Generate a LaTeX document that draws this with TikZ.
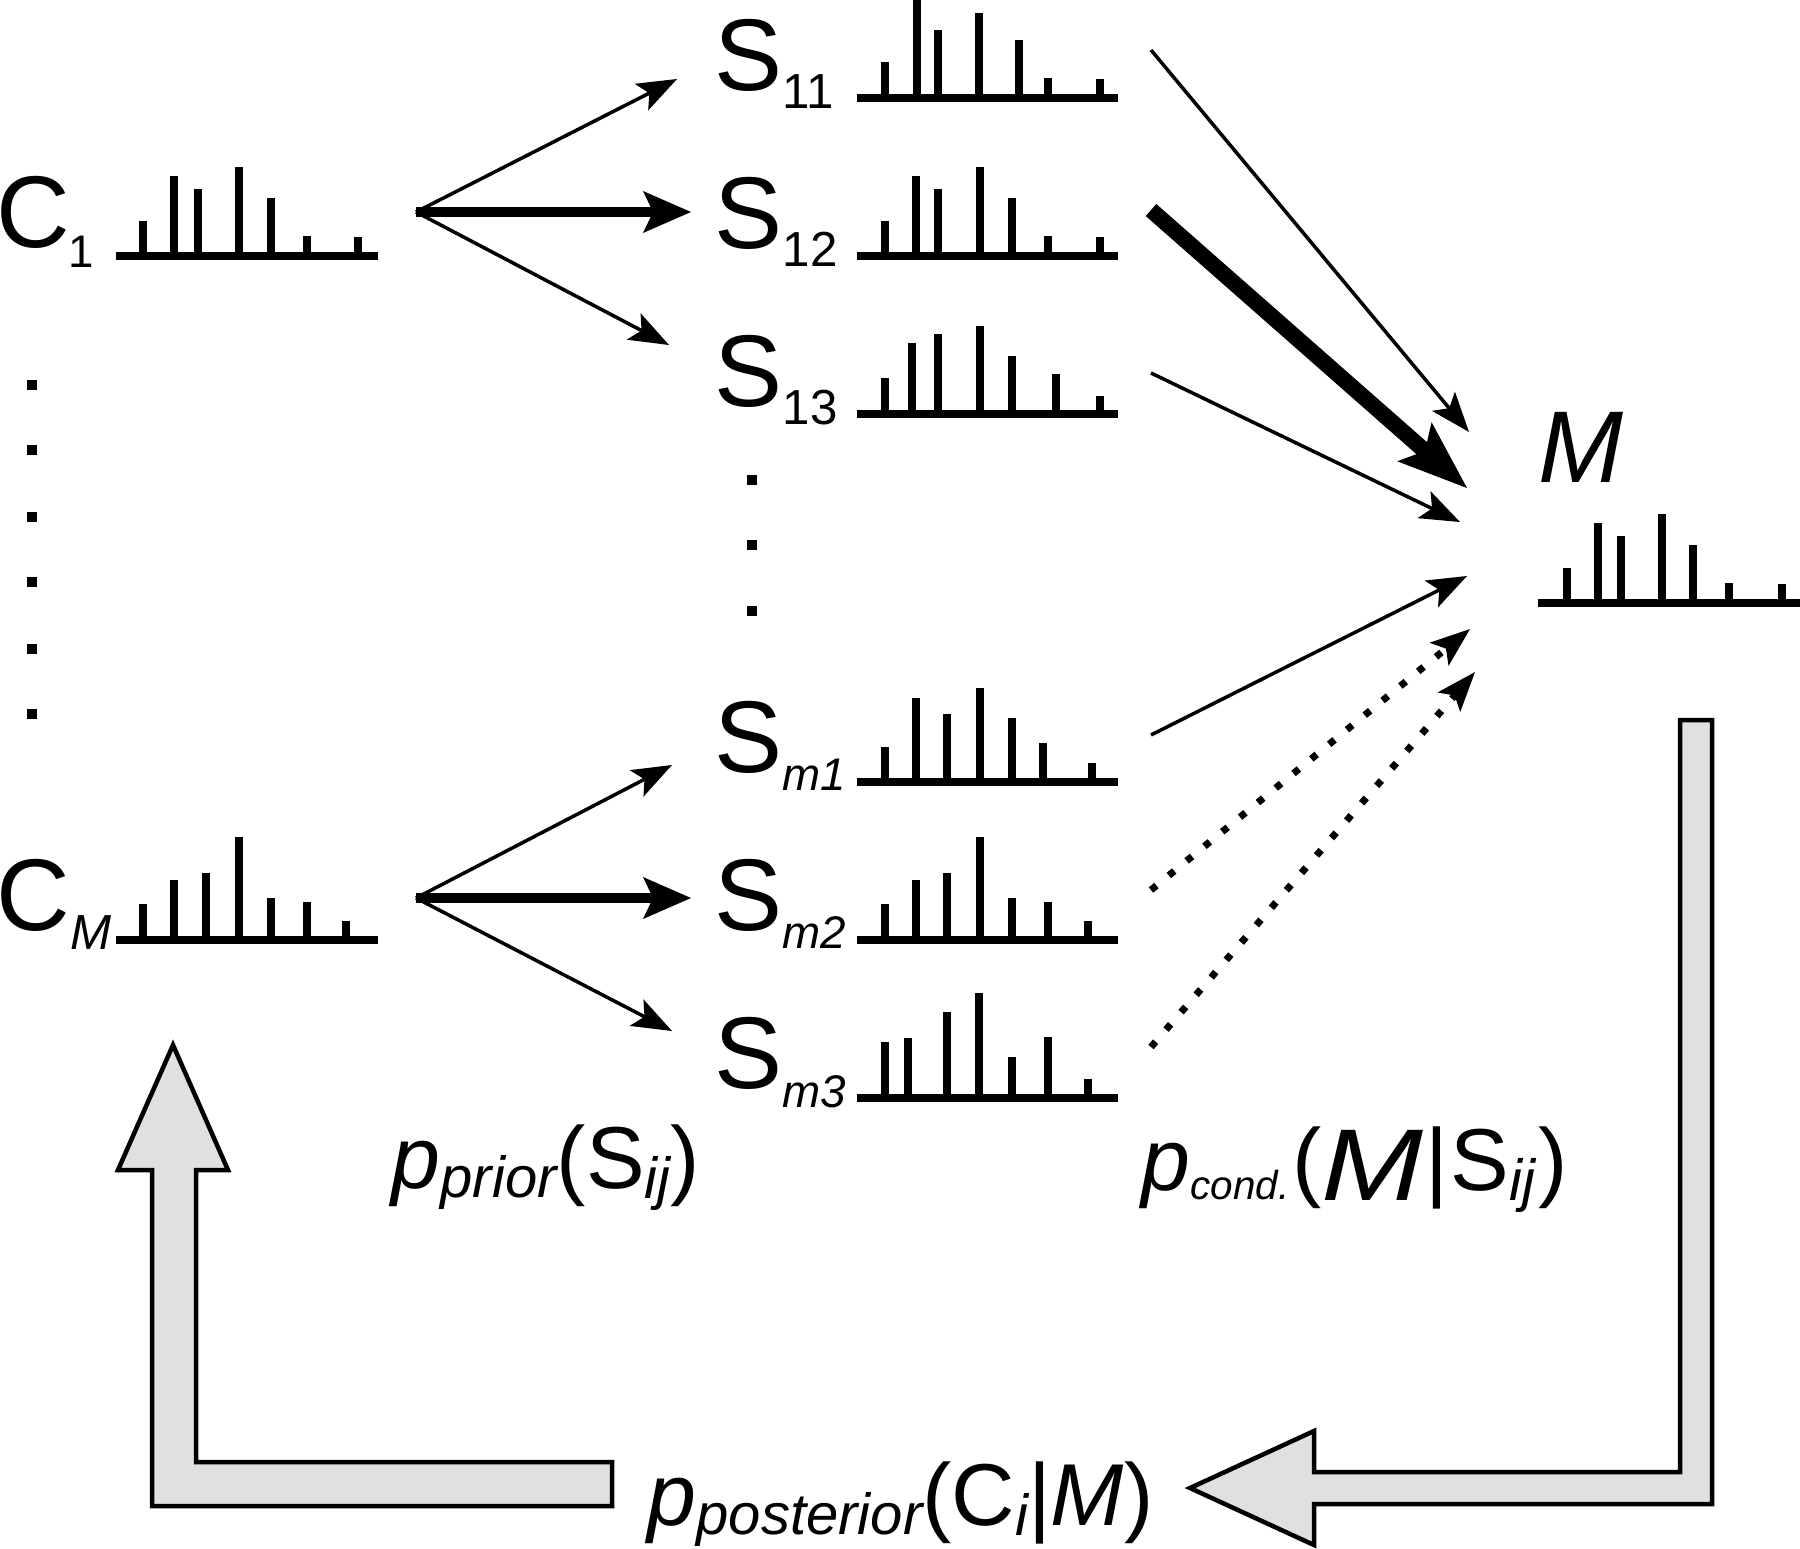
\documentclass[tikz,border=0pt]{standalone}
\usepackage{fontspec}
\setmainfont{Liberation Sans}
\usepackage{tikz}
\usetikzlibrary{arrows.meta,positioning}

\newcommand{\lowsub}[3]{\raisebox{-#1}{\fontsize{#2}{#2}\selectfont #3}}

\begin{document}
\begin{tikzpicture}[->,>={Stealth[length=0.4cm,width=0.3cm,inset=0.09cm,line width=0pt]},
                    x=0.01cm,y=-0.01cm,line width=1pt]
  \tikzstyle{spec}=[-,line width=0.08cm]
  \tikzstyle{bar}=[-,line width=0.08cm]
  \tikzstyle{big}=[line width=0.1cm,>={Stealth[length=0.48cm,width=0.42cm,inset=0.1cm,line width=0pt]}]
  \tikzstyle{huge}=[line width=0.16cm,>={Stealth[length=0.7cm,width=0.52cm,inset=0.14cm,line width=0pt]}]
  \tikzstyle{dots}=[line width=0.07cm,dash pattern=on 0.07cm off 0.16cm]
  \tikzstyle{lbl}=[inner sep=0pt,anchor=base west,font=\fontsize{29}{30}\selectfont]
  \tikzstyle{prob}=[inner sep=0pt,anchor=base west,font=\fontsize{25}{26}\selectfont]
  \tikzstyle{hollow}=[-,draw=black,fill=black!12,line width=0.045cm,line join=miter]

  \useasboundingbox (0,0) rectangle (1800,1548);

  % spectra
  \draw[spec] (116,256) -- ++(262,0);
  \foreach \dx/\h in {27/35,58/80,82/67,123/89,155/58,191/20,242/19}
    \draw[bar] (116+\dx,256) -- ++(0,-\h);
  \draw[spec] (116,940) -- ++(262,0);
  \foreach \dx/\h in {27/36,58/60,90/67,123/103,155/42,191/38,230/19}
    \draw[bar] (116+\dx,940) -- ++(0,-\h);
  \draw[spec] (857,98) -- ++(261,0);
  \foreach \dx/\h in {28/36,60/98,81/68,122/85,162/58,191/20,243/19}
    \draw[bar] (857+\dx,98) -- ++(0,-\h);
  \draw[spec] (857,256) -- ++(261,0);
  \foreach \dx/\h in {28/35,59/80,81/67,123/89,155/58,191/20,243/19}
    \draw[bar] (857+\dx,256) -- ++(0,-\h);
  \draw[spec] (857,414) -- ++(261,0);
  \foreach \dx/\h in {28/36,55/71,81/80,123/88,155/58,199/40,243/18}
    \draw[bar] (857+\dx,414) -- ++(0,-\h);
  \draw[spec] (857,782) -- ++(261,0);
  \foreach \dx/\h in {28/35,59/84,90/68,123/94,155/64,186/39,235/19}
    \draw[bar] (857+\dx,782) -- ++(0,-\h);
  \draw[spec] (857,940) -- ++(261,0);
  \foreach \dx/\h in {28/36,59/60,90/67,123/103,155/42,191/38,231/19}
    \draw[bar] (857+\dx,940) -- ++(0,-\h);
  \draw[spec] (857,1098) -- ++(261,0);
  \foreach \dx/\h in {28/56,51/60,90/86,122/105,155/41,191/61,231/19}
    \draw[bar] (857+\dx,1098) -- ++(0,-\h);
  \draw[spec] (1538,603) -- ++(262,0);
  \foreach \dx/\h in {29/35,60/80,83/67,124/89,155/58,191/20,244/19}
    \draw[bar] (1538+\dx,603) -- ++(0,-\h);

  % labels
  \node[lbl] (C1)  at (-5,247)   {C\kern-0.02cm\lowsub{0.2cm}{13}{1}};
  \node[lbl] (CM)  at (-5,930)   {C\lowsub{0.19cm}{14}{\itshape M}};
  \node[lbl] (S11) at (713,90)   {S\lowsub{0.18cm}{14}{11}};
  \node[lbl] (S12) at (713,248)  {S\lowsub{0.18cm}{14}{12}};
  \node[lbl] (S13) at (713,406)  {S\lowsub{0.18cm}{14}{13}};
  \node[lbl] (Sm1) at (713,772)  {S\lowsub{0.18cm}{13}{\itshape m1}};
  \node[lbl] (Sm2) at (713,930)  {S\lowsub{0.18cm}{13}{\itshape m2}};
  \node[lbl] (Sm3) at (713,1088) {S\lowsub{0.19cm}{13}{\itshape m3}};
  \node[lbl] (M)   at (1537,482) {\itshape M};

  \node[prob] (prior) at (390,1188) {{\itshape p\lowsub{0.09cm}{16.5}{prior}}(S\lowsub{0.1cm}{16.5}{\itshape ij})};
  \node[prob] (cond)  at (1140,1190) {{\itshape p\lowsub{0.09cm}{11.5}{cond.}}\kern0.03cm(\lowsub{0.1cm}{29}{\itshape\scalebox{1.2}[1]{M}}\kern0.02cm|\kern0.02cm S\lowsub{0.1cm}{16.5}{\itshape ij}\kern0.03cm)};
  \node[prob] (post)  at (646,1525) {{\itshape p\lowsub{0.09cm}{16.5}{posterior}}(C\lowsub{0.1cm}{16.5}{\itshape i}|{\itshape M})};

  % dots
  \foreach \y in {385,450,517,582,649,714}
    \fill (27,\y-5) rectangle ++(10,10);
  \foreach \y in {480,545,611}
    \fill (747,\y-5) rectangle ++(10,10);

  % arrow ends
  \coordinate (C1out) at (416,212);
  \coordinate (CMout) at (416,898);
  \coordinate (S11in) at (677,79);
  \coordinate (S12in) at (691,212);
  \coordinate (S13in) at (669,345);
  \coordinate (Sm1in) at (672,765);
  \coordinate (Sm2in) at (691,898);
  \coordinate (Sm3in) at (672,1031);
  \coordinate (S11out) at (1151,50);
  \coordinate (S12out) at (1151,210);
  \coordinate (S13out) at (1151,373);
  \coordinate (Sm1out) at (1151,735);
  \coordinate (Sm2out) at (1151,890);
  \coordinate (Sm3out) at (1151,1047);
  \coordinate (Ma) at (1469,432);
  \coordinate (Mb) at (1467,488);
  \coordinate (Mc) at (1460,522);
  \coordinate (Md) at (1467,576);
  \coordinate (Me) at (1470,629);
  \coordinate (Mf) at (1475,672);

  \path (C1out) edge (S11in)
                edge[big] (S12in)
                edge (S13in)
        (CMout) edge (Sm1in)
                edge[big] (Sm2in)
                edge (Sm3in);
  \path (S11out) edge (Ma)
        (S12out) edge[huge] (Mb)
        (S13out) edge (Mc)
        (Sm1out) edge (Md)
        (Sm2out) edge[dots] (Me)
        (Sm3out) edge[dots] (Mf);

  % feedback arrows
  \draw[hollow] (612,1462) -- (196,1462) -- (196,1170) -- (228,1170) -- (173,1045)
    -- (118,1170) -- (152,1170) -- (152,1506) -- (612,1506) -- cycle;
  \draw[hollow] (1680,720) -- (1712,720) -- (1712,1504) -- (1314,1504) -- (1314,1545)
    -- (1190,1488) -- (1314,1431) -- (1314,1472) -- (1680,1472) -- cycle;
\end{tikzpicture}
\end{document}
